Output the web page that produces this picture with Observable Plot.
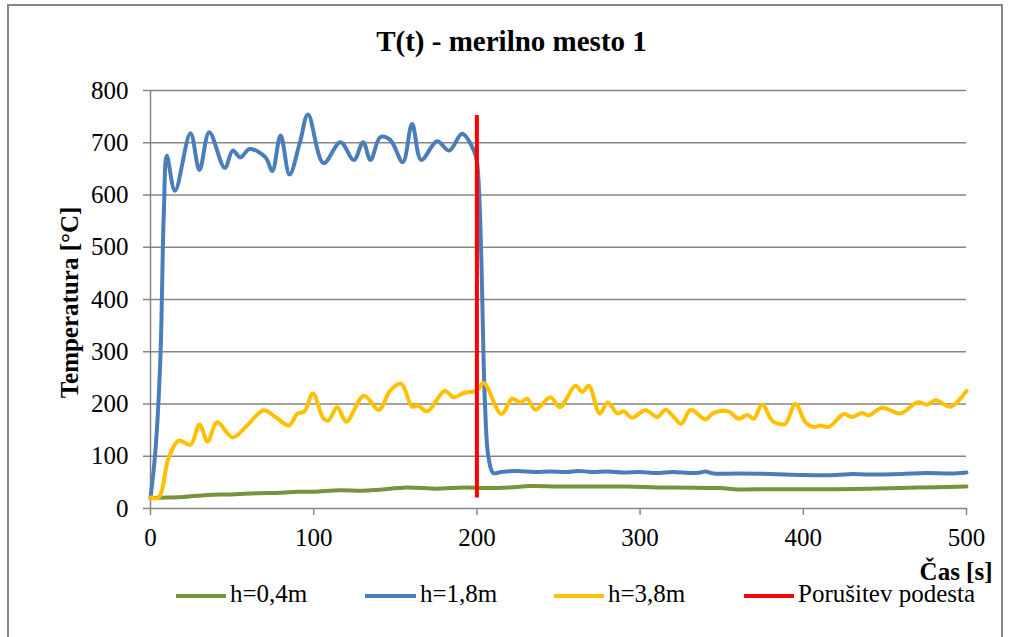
<!DOCTYPE html>
<html>
<head>
<meta charset="utf-8">
<script src="https://cdn.jsdelivr.net/npm/d3@7"></script>
<script src="https://cdn.jsdelivr.net/npm/@observablehq/plot@0.6"></script>
<style>
  html, body { margin: 0; padding: 0; background: #fff; }
  #wrap { position: relative; width: 1009px; height: 637px; overflow: hidden; font-family: "Liberation Serif", "Times New Roman", serif; }
  #border { position: absolute; left: 7px; top: 4px; width: 996px; height: 640px; border: 2px solid #868686; box-sizing: border-box; }
  #chart { position: absolute; left: 0; top: 0; }
  #title { position: absolute; left: 7px; width: 1009px; top: 27px; text-align: center; font-weight: bold; font-size: 29px; line-height: 29px; color: #000; white-space: nowrap; }
  .lg { position: absolute; font-size: 25px; line-height: 16px; top: 585.5px; color: #000; white-space: nowrap; }
  .sw { position: absolute; height: 4px; top: 594px; }
</style>
</head>
<body>
<div id="wrap">
  <div id="border"></div>
  <div id="chart"></div>
  <div id="title"></div>
  <div id="legend"></div>
</div>
<script>
// ---- data (time [s], temperature [°C]) ----
const title = "T(t) - merilno mesto 1";
const yLabel = "Temperatura [°C]";
const xLabel = "Čas [s]";
const xTicks = [0, 100, 200, 300, 400, 500];
const yTicks = [0, 100, 200, 300, 400, 500, 600, 700, 800];
const seriesNames = ["h=0,4m", "h=1,8m", "h=3,8m", "Porušitev podesta"];
const seriesColors = ["#77933C", "#4A7EBB", "#FFC000", "#FF0000"];

const h04 = [[0,20],[10,21],[20,22],[35,26],[50,27],[65,29],[80,30],[90,32],[100,32],[116,35],[130,34],[140,36],[157,40],[175,38],[192,40],[205,39],[220,40],[233,43],[250,42],[290,42],[320,40],[349,39],[360,36.5],[380,37],[420,37],[440,38],[470,40],[500,42]];

const h18 = [[0,20],[3,110],[6,283],[8.2,570],[10,675],[15,608],[24.5,718],[30,648],[36,720],[45.5,652],[50.4,685],[55,672],[60.7,688],[70.5,672],[74.6,646],[79.7,714],[85.2,639],[91.5,700],[96.5,754],[106,661],[116.4,701],[124.6,667],[130.3,701],[134.8,667],[140.9,711],[147,705],[154.6,663],[160.3,736],[165.9,667],[175.6,703],[183,685],[191,717],[198,686],[200,665],[205,195],[207,100],[210,68],[215,70],[225,72],[235,70],[245,71],[255,70],[262,72],[270,70],[280,71],[290,69],[300,70],[310,68],[320,70],[330,68],[337,69],[340,71],[345,67],[360,67],[380,66],[400,64],[420,64],[430,66],[440,65],[460,66],[475,68],[490,67],[500,69]];

const h38 = [[0,21],[5,21],[11.2,98],[17.4,130],[24.5,122],[30,161],[35,128],[40.8,165],[50.4,136],[59.2,159],[69.4,188],[76.6,175],[84.8,159],[89.9,181],[94.4,186],[99.5,220],[106,172],[109,168],[114.4,194],[120,166],[130.7,216],[139.9,189],[147,226],[153.6,239],[160.3,195],[163.8,197],[169.5,186],[180.3,225],[185.8,213],[192,221],[200,226],[204.2,240],[215,181],[221.6,210],[226.7,203],[230.8,210],[235.9,189],[245,213],[250.8,194],[260.4,235],[264.5,223],[268.6,235],[275.3,182],[280.2,203],[286,182],[290,186],[295,174],[303.3,188],[310.5,175],[315.6,189],[320.7,175],[325.2,162],[331,189],[340,171],[345,183],[354,186],[360.5,172],[365.6,179],[369.7,172],[374.8,199],[380.9,168],[385,162],[389,162],[395.2,200],[401.3,165],[406.4,156],[410.5,159],[415.6,156],[424.8,181],[430,175],[436,183],[440,178],[448.3,193],[459.6,182],[469.8,203],[476,199],[481,207],[490.2,195],[500,225]];

const failureTime = [200];
const failureRange = [20, 752];

// ---- chart ----
const grid = "#868686";
const chart = Plot.plot({
  width: 1009,
  height: 637,
  marginTop: 90,
  marginBottom: 129,
  marginLeft: 150,
  marginRight: 43,
  style: { fontFamily: "'Liberation Serif', 'Times New Roman', serif", fontSize: "25px", background: "transparent", color: "#000", overflow: "visible" },
  x: { domain: [0, 500] },
  y: { domain: [0, 800] },
  marks: [
    Plot.gridY(yTicks.filter(d => d > 0), { stroke: grid, strokeOpacity: 1, strokeWidth: 1.5 }),
    Plot.ruleY([0], { stroke: grid, strokeWidth: 1.5 }),
    Plot.ruleX([0], { stroke: grid, strokeWidth: 1.5 }),
    Plot.axisY({ ticks: yTicks, tickSize: 7, tickPadding: 15, stroke: grid, strokeWidth: 1.5, fill: "#000", label: null }),
    Plot.axisX({ ticks: xTicks, tickSize: 7, tickPadding: 13, stroke: grid, strokeWidth: 1.5, fill: "#000", label: null }),
    Plot.line(h04, { x: d => d[0], y: d => d[1], stroke: seriesColors[0], strokeWidth: 4, curve: "catmull-rom" }),
    Plot.line(h18, { x: d => d[0], y: d => d[1], stroke: seriesColors[1], strokeWidth: 4, curve: "catmull-rom" }),
    Plot.line(h38, { x: d => d[0], y: d => d[1], stroke: seriesColors[2], strokeWidth: 4, curve: "catmull-rom" }),
    Plot.ruleX(failureTime, { y1: failureRange[0], y2: failureRange[1], stroke: seriesColors[3], strokeWidth: 4 }),
    Plot.text([yLabel], { text: d => d, frameAnchor: "left", rotate: -90, dx: -81, dy: 3, textAnchor: "middle", lineAnchor: "middle", fontWeight: "bold", fontSize: 25, fill: "#000" }),
    Plot.text([xLabel], { text: d => d, frameAnchor: "bottom-right", dx: 26, dy: 71, textAnchor: "end", lineAnchor: "bottom", fontWeight: "bold", fontSize: 25, fill: "#000" })
  ]
});
document.getElementById("chart").appendChild(chart);
document.getElementById("title").textContent = title;

// ---- legend ----
const legendPos = [[176, 230], [365, 420], [554, 608], [744, 798]];
const lg = document.getElementById("legend");
seriesNames.forEach((name, i) => {
  const sw = document.createElement("div");
  sw.className = "sw";
  sw.style.left = legendPos[i][0] + "px";
  sw.style.width = (legendPos[i][1] - legendPos[i][0] - 4) + "px";
  sw.style.background = seriesColors[i];
  lg.appendChild(sw);
  const t = document.createElement("div");
  t.className = "lg";
  t.style.left = legendPos[i][1] + "px";
  t.textContent = name;
  lg.appendChild(t);
});
</script>
</body>
</html>
